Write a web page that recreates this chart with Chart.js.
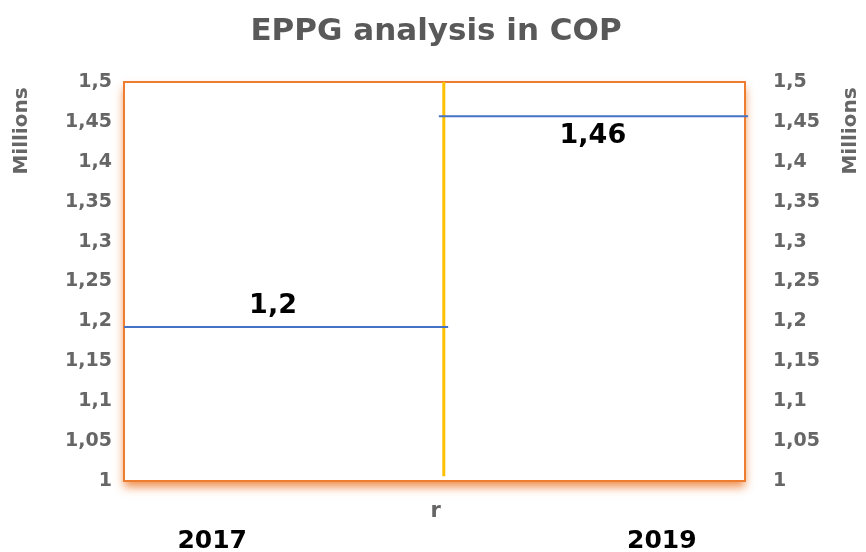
<!DOCTYPE html>
<html>
<head>
<meta charset="utf-8">
<script src="https://cdn.jsdelivr.net/npm/chart.js@4.4.1/dist/chart.umd.min.js"></script>
<style>
  html, body { margin: 0; padding: 0; background: #fff; }
  #wrap { width: 866px; height: 552px; }
</style>
</head>
<body>
<div id="wrap"><canvas id="chart" width="866" height="552"></canvas></div>
<script>
// values (in millions of COP)
const categories = ["2017", "2019"];
const values = [1.193, 1.457];
const valueLabels = ["1,2", "1,46"];
// each horizontal segment spans these x units (0..1 across the plot)
const segStart = [0, 0.507];
const segEnd = [0.522, 1.005];
const valueLabelX = [0.24, 0.755];
const categoryX = [0.142, 0.866];
const dividerX = 0.515;
const dividerSpan = [1.006, 1.5];
const dividerLabel = "r";
const dividerLabelX = 0.502;

const GRAY = "#666666";
const ORANGE = "#ED7D31";
const BLUE = "#4472C4";
const YELLOW = "#FFC000";
const FONT = "DejaVu Sans";

function fmt(v) {
  return String(Math.round(v * 100) / 100).replace(".", ",");
}

const boxPlugin = {
  id: "box",
  beforeDatasetsDraw(chart) {
    const a = chart.chartArea;
    const ctx = chart.ctx;
    ctx.save();
    ctx.shadowColor = "rgba(237,125,49,0.85)";
    ctx.shadowBlur = 9;
    ctx.shadowOffsetY = 6;
    ctx.fillStyle = "#fff";
    ctx.fillRect(a.left, a.top, a.right - a.left, a.bottom - a.top);
    ctx.restore();
    ctx.save();
    ctx.strokeStyle = ORANGE;
    ctx.lineWidth = 2;
    ctx.strokeRect(a.left, a.top, a.right - a.left, a.bottom - a.top);
    ctx.restore();
  },
  afterDraw(chart) {
    const ctx = chart.ctx;
    const x = chart.scales.x, y = chart.scales.y;
    ctx.save();
    // title
    ctx.fillStyle = "#595959";
    ctx.font = "bold 31px " + FONT;
    ctx.textAlign = "center";
    ctx.textBaseline = "middle";
    ctx.fillText("EPPG analysis in COP", 436, 32);
    // value labels
    ctx.fillStyle = "#000";
    ctx.font = "bold 27px " + FONT;
    values.forEach(function (v, i) {
      const py = y.getPixelForValue(v) + (i === 0 ? -21 : 20);
      ctx.fillText(valueLabels[i], x.getPixelForValue(valueLabelX[i]), py);
    });
    // axis titles, both reading bottom to top
    ctx.fillStyle = GRAY;
    ctx.font = "bold 20px " + FONT;
    [22, 851].forEach(function (cx) {
      ctx.save();
      ctx.translate(cx, 131);
      ctx.rotate(-Math.PI / 2);
      ctx.fillText("Millions", 0, 0);
      ctx.restore();
    });
    ctx.restore();
  }
};

const datasets = values.map(function (v, i) {
  return {
    label: categories[i],
    data: [{ x: segStart[i], y: v }, { x: segEnd[i], y: v }],
    borderColor: BLUE,
    borderWidth: 2,
    pointRadius: 0,
    clip: false
  };
});
datasets.push({
  label: "divider",
  data: [{ x: dividerX, y: dividerSpan[0] }, { x: dividerX, y: dividerSpan[1] }],
  borderColor: YELLOW,
  borderWidth: 3,
  pointRadius: 0
});

const yTickOpts = {
  stepSize: 0.05,
  color: GRAY,
  font: { family: FONT, size: 19, weight: "bold" },
  callback: function (v) { return fmt(v); }
};

new Chart(document.getElementById("chart"), {
  type: "line",
  data: { datasets: datasets },
  plugins: [boxPlugin],
  options: {
    responsive: false,
    animation: false,
    layout: { padding: { top: 82, left: 0, right: 0, bottom: 0 } },
    plugins: { legend: { display: false }, tooltip: { enabled: false } },
    scales: {
      x: {
        type: "linear",
        position: "bottom",
        min: 0,
        max: 1,
        grid: { display: false, drawTicks: false },
        border: { display: false },
        afterBuildTicks: function (s) { s.ticks = [{ value: dividerLabelX }]; },
        afterFit: function (s) { s.height = 40; },
        ticks: {
          padding: 18,
          maxRotation: 0,
          color: GRAY,
          font: { family: FONT, size: 21, weight: "bold" },
          callback: function () { return dividerLabel; }
        }
      },
      x2: {
        type: "linear",
        position: "bottom",
        min: 0,
        max: 1,
        grid: { display: false, drawTicks: false },
        border: { display: false },
        afterBuildTicks: function (s) { s.ticks = categoryX.map(function (v) { return { value: v }; }); },
        afterFit: function (s) { s.height = 31; },
        ticks: {
          padding: 5,
          maxRotation: 0,
          color: "#000",
          font: { family: FONT, size: 25, weight: "bold" },
          callback: function (v) { return categories[categoryX.indexOf(v)]; }
        }
      },
      y: {
        position: "left",
        min: 1,
        max: 1.5,
        grid: { display: false, drawTicks: false },
        border: { display: false },
        afterFit: function (s) { s.width = 124; },
        ticks: Object.assign({ padding: 12 }, yTickOpts)
      },
      y2: {
        position: "right",
        min: 1,
        max: 1.5,
        grid: { display: false, drawTicks: false },
        border: { display: false },
        afterFit: function (s) { s.width = 121; },
        ticks: Object.assign({ padding: 28 }, yTickOpts)
      }
    }
  }
});
</script>
</body>
</html>
